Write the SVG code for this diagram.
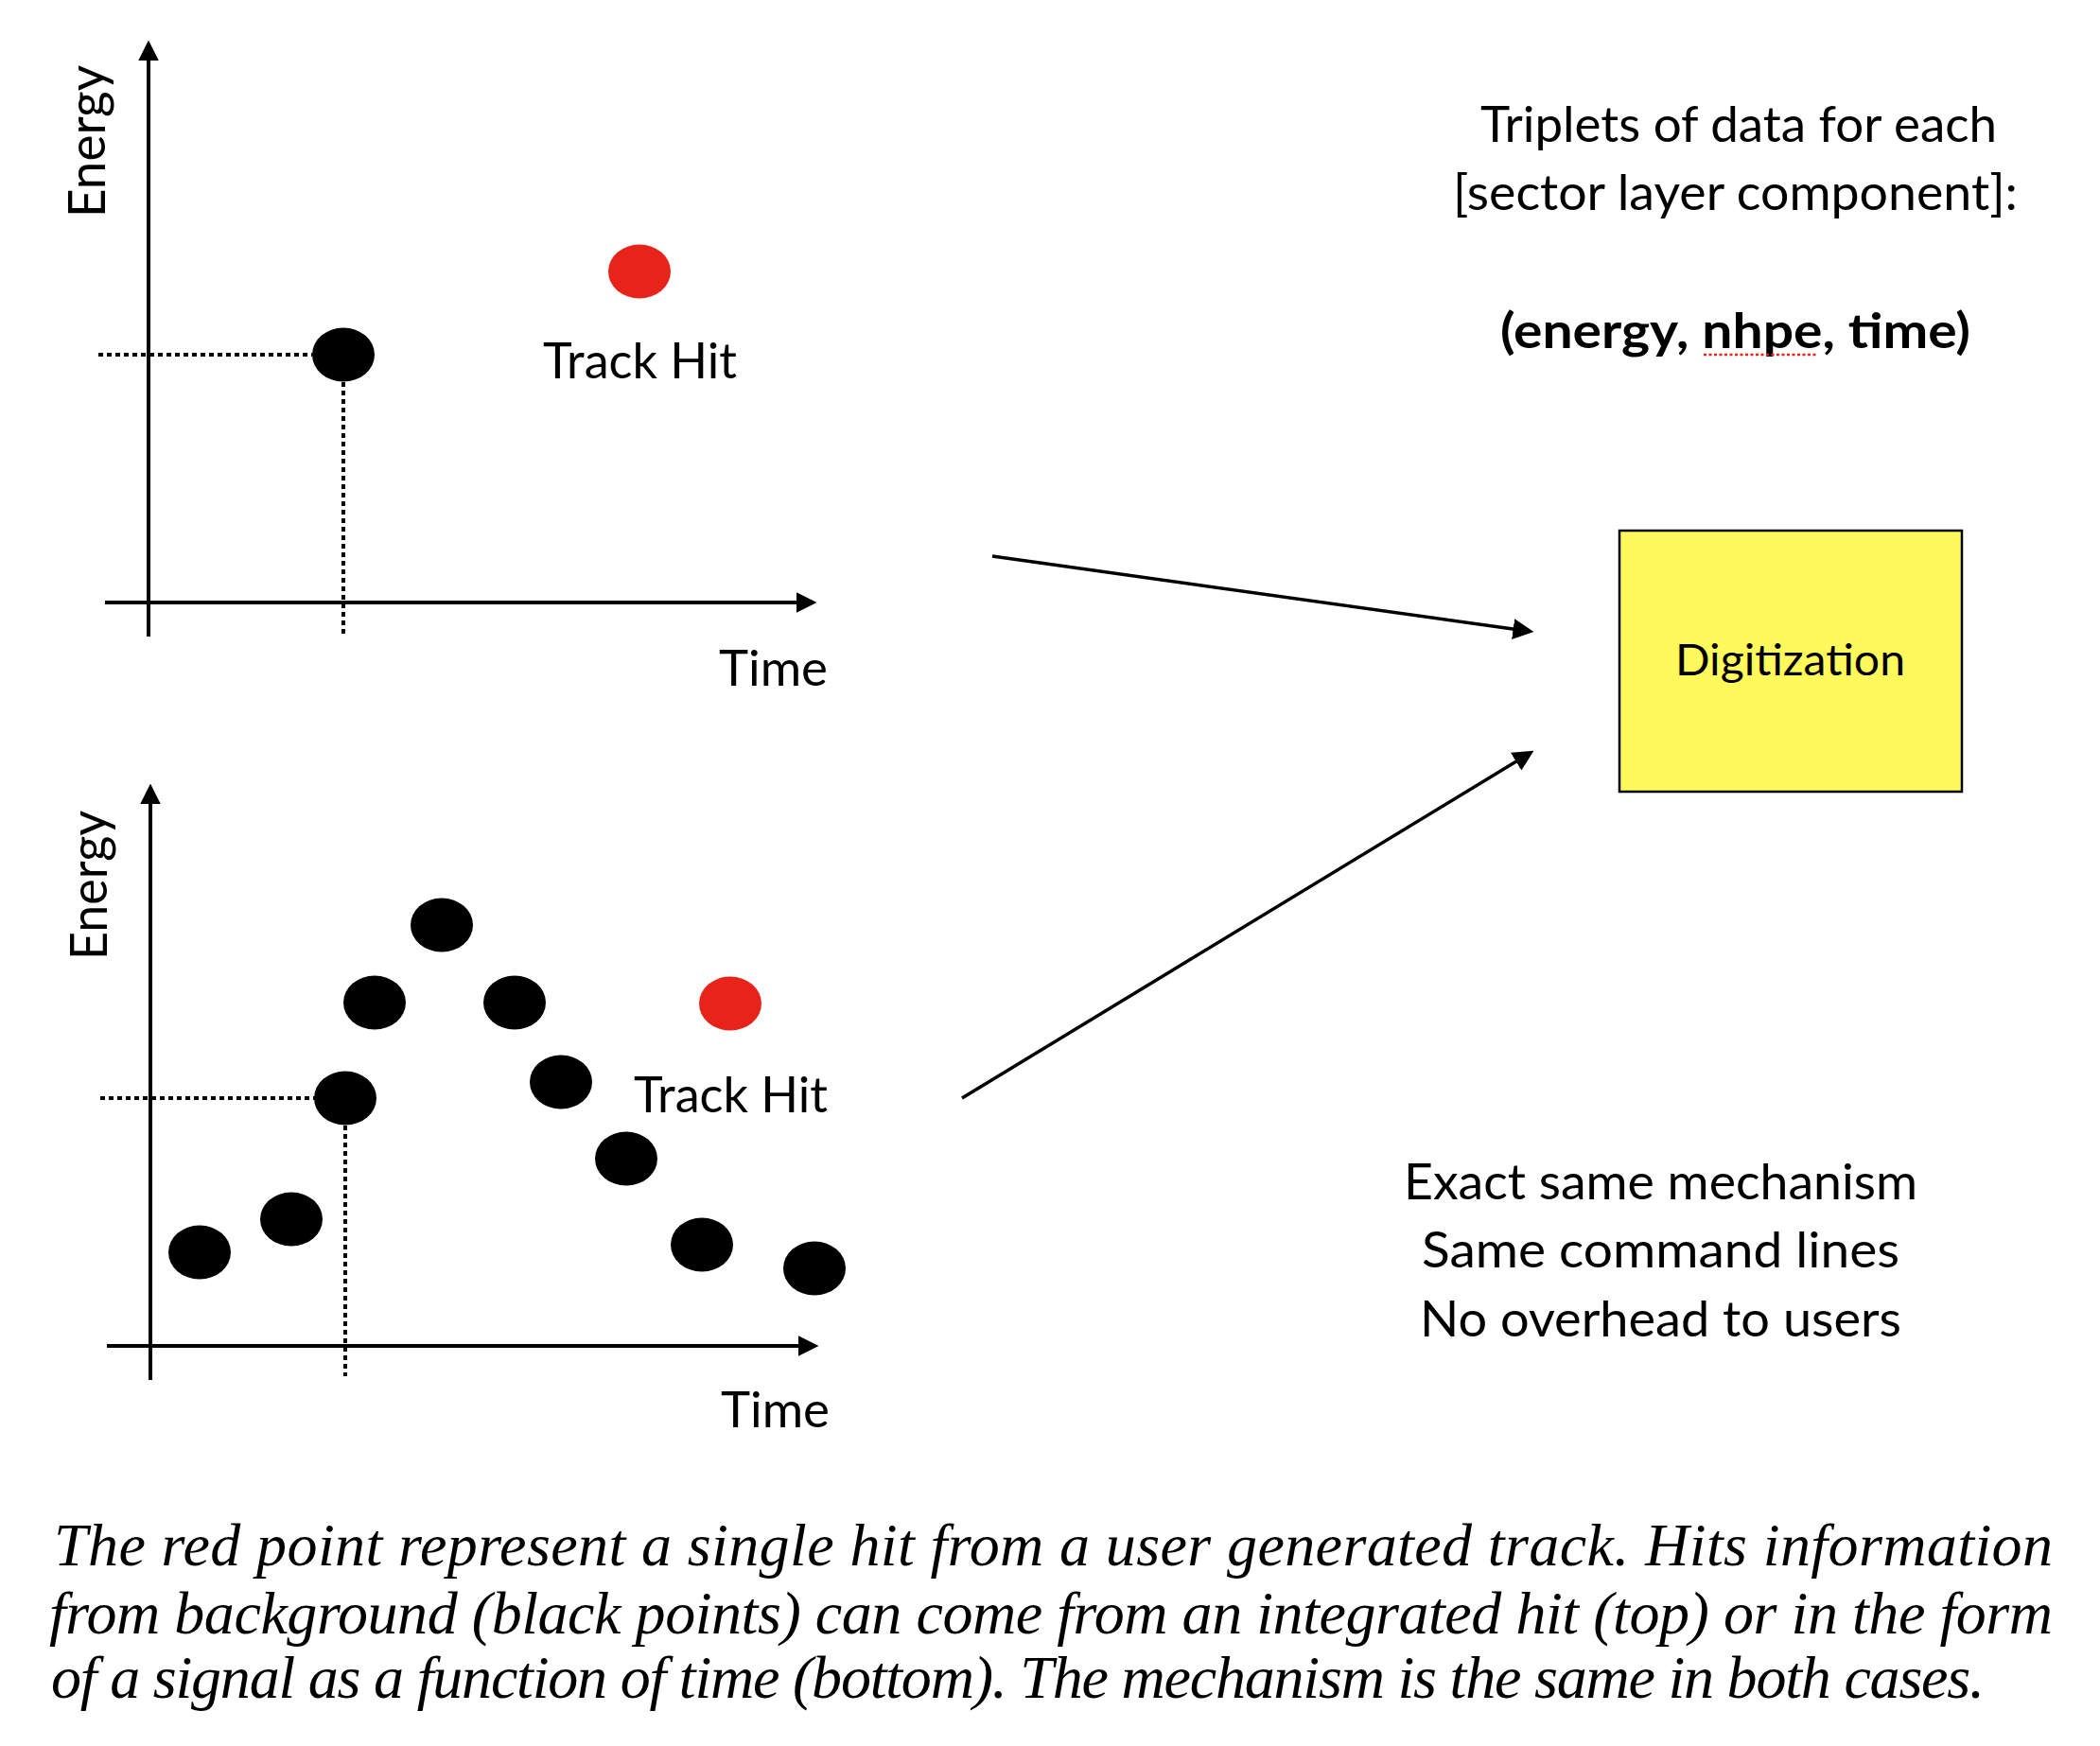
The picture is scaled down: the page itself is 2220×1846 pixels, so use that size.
<svg xmlns="http://www.w3.org/2000/svg" width="2220" height="1846" viewBox="0 0 2220 1846">
<style>
.sans{font-family:Lato,"Noto Sans","Liberation Sans",sans-serif;fill:#000}
.lbl{font-size:52px}
.cap{font-family:"Liberation Serif","Times New Roman",serif;font-style:italic;font-size:64px;fill:#000}
.axis{stroke:#000;stroke-width:4;fill:none}
.dot{stroke:#000;stroke-width:4;stroke-dasharray:5 4;fill:none}
.bg{fill:#000}
.hit{fill:#E8231A}
.conn{stroke:#000;stroke-width:3.5;fill:none}
</style>
<defs>
<marker id="ah" markerUnits="userSpaceOnUse" markerWidth="22" markerHeight="22" viewBox="0 0 21 21" refX="10" refY="10.5" orient="auto">
<path d="M0,0 L21,10.5 L0,21 z" fill="#000"/>
</marker>
</defs>
<rect x="0" y="0" width="2220" height="1846" fill="#fff"/>

<g id="top-chart">
<line class="axis" x1="157" y1="673" x2="157" y2="54" marker-end="url(#ah)"/>
<line class="axis" x1="111" y1="637" x2="852" y2="637" marker-end="url(#ah)"/>
<line class="dot" x1="104" y1="375" x2="330" y2="375"/>
<line class="dot" x1="363" y1="404" x2="363" y2="670"/>
<ellipse class="bg" cx="363" cy="375" rx="33" ry="28.5"/>
<ellipse class="hit" cx="676" cy="287" rx="33" ry="28.5"/>
<text class="sans lbl" x="574" y="400" textLength="205" lengthAdjust="spacingAndGlyphs">Track Hit</text>
<text class="sans lbl" x="760" y="725" textLength="115" lengthAdjust="spacingAndGlyphs">Time</text>
<text class="sans" font-size="54" transform="translate(111,230) rotate(-90)" textLength="161" lengthAdjust="spacingAndGlyphs">Energy</text>
</g>

<g id="bottom-chart">
<line class="axis" x1="159" y1="1459" x2="159" y2="840" marker-end="url(#ah)"/>
<line class="axis" x1="113" y1="1423" x2="854" y2="1423" marker-end="url(#ah)"/>
<line class="dot" x1="106" y1="1161" x2="333" y2="1161"/>
<line class="dot" x1="365" y1="1190" x2="365" y2="1455"/>
<ellipse class="bg" cx="211" cy="1324" rx="33" ry="28.5"/>
<ellipse class="bg" cx="308" cy="1289" rx="33" ry="28.5"/>
<ellipse class="bg" cx="365" cy="1161" rx="33" ry="28.5"/>
<ellipse class="bg" cx="396" cy="1060" rx="33" ry="28.5"/>
<ellipse class="bg" cx="467" cy="978" rx="33" ry="28.5"/>
<ellipse class="bg" cx="544" cy="1060" rx="33" ry="28.5"/>
<ellipse class="bg" cx="593" cy="1144" rx="33" ry="28.5"/>
<ellipse class="bg" cx="662" cy="1225" rx="33" ry="28.5"/>
<ellipse class="bg" cx="742" cy="1316" rx="33" ry="28.5"/>
<ellipse class="bg" cx="861" cy="1341" rx="33" ry="28.5"/>
<ellipse class="hit" cx="772" cy="1061" rx="33" ry="28.5"/>
<text class="sans lbl" x="670" y="1176" textLength="205" lengthAdjust="spacingAndGlyphs">Track Hit</text>
<text class="sans lbl" x="762" y="1509" textLength="115" lengthAdjust="spacingAndGlyphs">Time</text>
<text class="sans" font-size="54" transform="translate(113,1015) rotate(-90)" textLength="158" lengthAdjust="spacingAndGlyphs">Energy</text>
</g>

<g id="triplets-note">
<text class="sans lbl" x="1565" y="150" textLength="546" lengthAdjust="spacingAndGlyphs">Triplets of data for each</text>
<text class="sans lbl" x="1536" y="222" textLength="597" lengthAdjust="spacingAndGlyphs">[sector layer component]:</text>
<text class="sans lbl" x="1586" y="368" font-weight="bold" textLength="497" lengthAdjust="spacingAndGlyphs">(energy, nhpe, time)</text>
<line x1="1801" y1="375" x2="1921" y2="375" stroke="#E8231A" stroke-width="2.5" stroke-dasharray="3 2.5"/>
</g>

<g id="digitization">
<rect x="1712" y="561" width="362" height="276" fill="#FFF95B" stroke="#000" stroke-width="2.5"/>
<text class="sans" font-size="46" x="1771" y="714" textLength="243" lengthAdjust="spacingAndGlyphs">Digitization</text>
</g>

<g id="mechanism-note">
<text class="sans lbl" x="1484" y="1268" textLength="543" lengthAdjust="spacingAndGlyphs">Exact same mechanism</text>
<text class="sans lbl" x="1503" y="1340" textLength="505" lengthAdjust="spacingAndGlyphs">Same command lines</text>
<text class="sans lbl" x="1501" y="1413" textLength="509" lengthAdjust="spacingAndGlyphs">No overhead to users</text>
</g>

<g id="connectors">
<line class="conn" x1="1049" y1="588" x2="1610" y2="666.5" marker-end="url(#ah)"/>
<line class="conn" x1="1017" y1="1161" x2="1611.6" y2="799.7" marker-end="url(#ah)"/>
</g>

<g id="caption">
<text class="cap" x="57" y="1655" textLength="2113">The red point represent a single hit from a user generated track. Hits information</text>
<text class="cap" x="52" y="1727" textLength="2118">from background (black points) can come from an integrated hit (top) or in the form</text>
<text class="cap" x="54" y="1795" textLength="2044">of a signal as a function of time (bottom). The mechanism is the same in both cases.</text>
</g>
</svg>
